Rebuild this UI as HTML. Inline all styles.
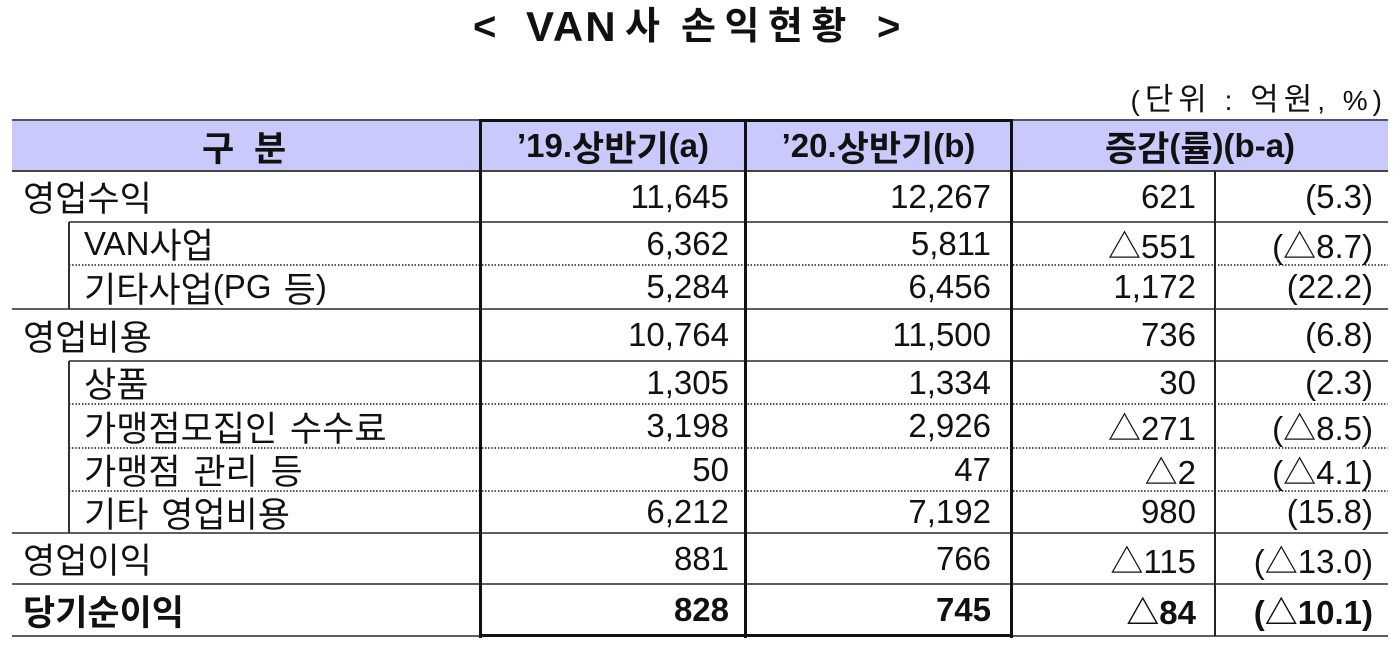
<!DOCTYPE html>
<html><head><meta charset="utf-8">
<style>
html,body{margin:0;padding:0;background:#fff;}
body{width:1400px;height:649px;position:relative;overflow:hidden;font-family:"Liberation Sans","Noto Sans CJK KR",sans-serif;color:#111;}
.a{position:absolute;white-space:pre;}
.hl{position:absolute;height:2px;background:#5e5e66;}
.dl{position:absolute;height:2px;background:repeating-linear-gradient(to right,#555 0 1.5px,transparent 1.5px 3.2px);}
.vl{position:absolute;width:2px;background:#333;}
.bv{position:absolute;width:3px;background:#111;}
.bh{position:absolute;height:3px;background:#111;}
.t{position:absolute;font-size:33px;display:flex;align-items:center;white-space:pre;word-spacing:3px;}
.r{justify-content:flex-end;}
.c{justify-content:center;}
.b{font-weight:bold;}
.k{font-size:35px;}
</style></head><body>

<!-- title -->
<div class="a" style="left:473px;top:4px;font-size:40px;font-weight:bold;line-height:46px;">&lt;</div>
<div class="a" style="left:526px;top:4px;font-size:42px;font-weight:bold;line-height:46px;letter-spacing:2px;">VAN</div>
<div class="a" style="left:625px;top:4px;font-size:38px;font-weight:bold;line-height:46px;">사</div>
<div class="a" style="left:681px;top:4px;font-size:38px;font-weight:bold;line-height:46px;letter-spacing:8.5px;">손익현황</div>
<div class="a" style="left:877px;top:4px;font-size:40px;font-weight:bold;line-height:46px;">&gt;</div>

<div class="a" style="right:13px;top:80px;font-size:28px;letter-spacing:5px;line-height:40px;">(<span style="font-size:31px">단위</span> : <span style="font-size:31px">억원</span>, %)</div>

<!-- header background -->
<div style="position:absolute;left:12px;top:121px;width:1376px;height:50px;background:#c9c9fb;"></div>
<div class="hl" style="left:12px;top:119px;width:1376px;background:#55556a;"></div>
<div class="hl" style="left:12px;top:170px;width:1376px;background:#444;"></div>

<!-- header text -->
<div class="t b" style="left:202px;top:121px;height:50px;"><span class="k">구</span></div>
<div class="t b" style="left:254px;top:121px;height:50px;"><span class="k">분</span></div>
<div class="t c b" style="left:481px;width:264px;top:121px;height:50px;">’19.<span class="k">상반기</span>(a)</div>
<div class="t c b" style="left:745px;width:267px;top:121px;height:50px;">’20.<span class="k">상반기</span>(b)</div>
<div class="t c b" style="left:1012px;width:376px;top:121px;height:50px;"><span class="k">증감</span>(<span class="k">률</span>)(b-a)</div>

<!-- horizontal row lines -->
<div class="hl" style="left:69px;top:221px;width:1319px;"></div>
<div class="dl" style="left:69px;top:264px;width:1319px;"></div>
<div class="hl" style="left:12px;top:308px;width:1376px;"></div>
<div class="hl" style="left:69px;top:360px;width:1319px;"></div>
<div class="dl" style="left:69px;top:403px;width:1319px;"></div>
<div class="dl" style="left:69px;top:447px;width:1319px;"></div>
<div class="dl" style="left:69px;top:490px;width:1319px;"></div>
<div class="hl" style="left:12px;top:532px;width:1376px;"></div>
<div class="hl" style="left:12px;top:583px;width:1376px;"></div>
<div class="hl" style="left:12px;top:635px;width:1376px;"></div>

<!-- vertical lines -->
<div class="vl" style="left:68px;top:222px;height:87px;"></div>
<div class="vl" style="left:68px;top:361px;height:172px;"></div>
<div class="vl" style="left:1214px;top:171px;height:465px;width:1.5px;background:#222;"></div>

<!-- bold box -->
<div class="bv" style="left:479px;top:119px;height:519px;"></div>
<div class="bv" style="left:744px;top:119px;height:519px;"></div>
<div class="bv" style="left:1010px;top:119px;height:519px;"></div>
<div class="bh" style="left:479px;top:119px;width:534px;"></div>
<div class="bh" style="left:479px;top:634px;width:534px;"></div>

<!-- 영업수익 171-222 -->
<div class="t" style="left:23px;top:171px;height:51px;"><span class="k">영업수익</span></div>
<div class="t r" style="right:671px;top:171px;height:51px;">11,645</div>
<div class="t r" style="right:409px;top:171px;height:51px;">12,267</div>
<div class="t r" style="right:204px;top:171px;height:51px;">621</div>
<div class="t r" style="right:27px;top:171px;height:51px;">(5.3)</div>

<!-- VAN사업 222-265 -->
<div class="t" style="left:84px;top:222px;height:43px;">VAN<span class="k">사업</span></div>
<div class="t r" style="right:671px;top:222px;height:43px;">6,362</div>
<div class="t r" style="right:409px;top:222px;height:43px;">5,811</div>
<div class="t r" style="right:204px;top:222px;height:43px;">△551</div>
<div class="t r" style="right:27px;top:222px;height:43px;">(△8.7)</div>

<!-- 기타사업 265-309 -->
<div class="t" style="left:84px;top:265px;height:44px;"><span class="k">기타사업</span>(PG <span class="k">등</span>)</div>
<div class="t r" style="right:671px;top:265px;height:44px;">5,284</div>
<div class="t r" style="right:409px;top:265px;height:44px;">6,456</div>
<div class="t r" style="right:204px;top:265px;height:44px;">1,172</div>
<div class="t r" style="right:27px;top:265px;height:44px;">(22.2)</div>

<!-- 영업비용 309-361 -->
<div class="t" style="left:23px;top:309px;height:52px;"><span class="k">영업비용</span></div>
<div class="t r" style="right:671px;top:309px;height:52px;">10,764</div>
<div class="t r" style="right:409px;top:309px;height:52px;">11,500</div>
<div class="t r" style="right:204px;top:309px;height:52px;">736</div>
<div class="t r" style="right:27px;top:309px;height:52px;">(6.8)</div>

<!-- 상품 361-404 -->
<div class="t" style="left:84px;top:361px;height:43px;"><span class="k">상품</span></div>
<div class="t r" style="right:671px;top:361px;height:43px;">1,305</div>
<div class="t r" style="right:409px;top:361px;height:43px;">1,334</div>
<div class="t r" style="right:204px;top:361px;height:43px;">30</div>
<div class="t r" style="right:27px;top:361px;height:43px;">(2.3)</div>

<!-- 가맹점모집인 수수료 404-448 -->
<div class="t" style="left:84px;top:404px;height:44px;"><span class="k">가맹점모집인 수수료</span></div>
<div class="t r" style="right:671px;top:404px;height:44px;">3,198</div>
<div class="t r" style="right:409px;top:404px;height:44px;">2,926</div>
<div class="t r" style="right:204px;top:404px;height:44px;">△271</div>
<div class="t r" style="right:27px;top:404px;height:44px;">(△8.5)</div>

<!-- 가맹점 관리 등 448-491 -->
<div class="t" style="left:84px;top:448px;height:43px;"><span class="k">가맹점 관리 등</span></div>
<div class="t r" style="right:671px;top:448px;height:43px;">50</div>
<div class="t r" style="right:409px;top:448px;height:43px;">47</div>
<div class="t r" style="right:204px;top:448px;height:43px;">△2</div>
<div class="t r" style="right:27px;top:448px;height:43px;">(△4.1)</div>

<!-- 기타 영업비용 491-533 -->
<div class="t" style="left:84px;top:491px;height:42px;"><span class="k">기타 영업비용</span></div>
<div class="t r" style="right:671px;top:491px;height:42px;">6,212</div>
<div class="t r" style="right:409px;top:491px;height:42px;">7,192</div>
<div class="t r" style="right:204px;top:491px;height:42px;">980</div>
<div class="t r" style="right:27px;top:491px;height:42px;">(15.8)</div>

<!-- 영업이익 533-584 -->
<div class="t" style="left:23px;top:533px;height:51px;"><span class="k">영업이익</span></div>
<div class="t r" style="right:671px;top:533px;height:51px;">881</div>
<div class="t r" style="right:409px;top:533px;height:51px;">766</div>
<div class="t r" style="right:204px;top:533px;height:51px;">△115</div>
<div class="t r" style="right:27px;top:533px;height:51px;">(△13.0)</div>

<!-- 당기순이익 584-636 -->
<div class="t b" style="left:23px;top:584px;height:52px;"><span class="k">당기순이익</span></div>
<div class="t r b" style="right:671px;top:584px;height:52px;">828</div>
<div class="t r b" style="right:409px;top:584px;height:52px;">745</div>
<div class="t r b" style="right:204px;top:584px;height:52px;">△84</div>
<div class="t r b" style="right:27px;top:584px;height:52px;">(△10.1)</div>

</body></html>
